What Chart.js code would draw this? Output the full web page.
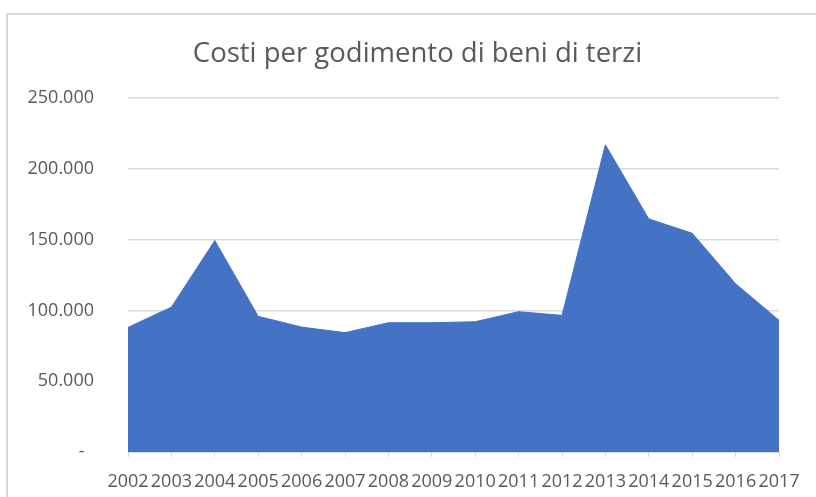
<!DOCTYPE html>
<html lang="it">
<head>
<meta charset="utf-8">
<title>Costi per godimento di beni di terzi</title>
<script src="https://cdn.jsdelivr.net/npm/chart.js@4.4.1/dist/chart.umd.min.js"></script>
<style>
    html, body {
        margin: 0;
        padding: 0;
        width: 816px;
        height: 497px;
        overflow: hidden;
        background: #fff;
    }
    /* only the top and left edges of the chart frame are inside the picture */
    .frame-top {
        position: absolute;
        left: 6px;
        top: 13px;
        width: 810px;
        height: 2px;
        background: #d9d9d9;
    }
    .frame-left {
        position: absolute;
        left: 6px;
        top: 13px;
        width: 2px;
        height: 484px;
        background: #d9d9d9;
    }
    .right-mask {
        position: absolute;
        left: 803px;
        top: 15px;
        width: 13px;
        height: 482px;
        background: #fff;
        z-index: 2;
    }
    #plot {
        position: absolute;
        left: 0;
        top: 0;
    }
</style>
</head>
<body>
<div class="frame-top"></div>
<div class="frame-left"></div>
<canvas id="plot" width="816" height="497"></canvas>
<div class="right-mask"></div>
<script>
'use strict';

const years = ["2002", "2003", "2004", "2005", "2006", "2007", "2008", "2009",
    "2010", "2011", "2012", "2013", "2014", "2015", "2016", "2017"];
const costs = [88000, 102300, 149300, 95800, 88200, 84300, 91300, 91300,
    92000, 99100, 96500, 216900, 164600, 154500, 118800, 93000];
const yTicks = [0, 50000, 100000, 150000, 200000, 250000];
const titleText = "Costi per godimento di beni di terzi";

const textColor = "#595959";
const gridColor = "#d9d9d9";
const fillColor = "#4472C4";

// Italian accounting style: thousands with a dot, zero shown as a dash
function formatTick(value) {
    if (value === 0) return "-  ";
    return String(value).replace(/\B(?=(\d{3})+(?!\d))/g, ".");
}

// title is centred on the whole chart frame, which runs past the right edge
const frameTitle = {
    id: "frameTitle",
    afterDraw(chart) {
        const c = chart.ctx;
        c.save();
        c.font = "normal 27.5px 'Open Sans'";
        c.fillStyle = textColor;
        c.textAlign = "center";
        c.textBaseline = "alphabetic";
        c.fillText(titleText, 417.5, 62);
        c.restore();
    }
};

const ctx = document.getElementById("plot").getContext("2d");

new Chart(ctx, {
    type: "line",
    data: {
        labels: years,
        datasets: [{
            label: titleText,
            data: costs,
            fill: "origin",
            backgroundColor: fillColor,
            borderColor: fillColor,
            borderWidth: 1,
            tension: 0,
            pointRadius: 0,
        }]
    },
    options: {
        responsive: false,
        animation: false,
        devicePixelRatio: 1,
        layout: {
            padding: { left: 0, right: 37, top: 98, bottom: 0 }
        },
        plugins: {
            legend: { display: false },
            tooltip: { enabled: false },
            title: { display: false }
        },
        scales: {
            x: {
                offset: false,
                grid: {
                    drawOnChartArea: false,
                    drawTicks: true,
                    tickLength: 5,
                    color: gridColor,
                },
                border: { display: true, color: gridColor },
                ticks: {
                    autoSkip: false,
                    maxRotation: 0,
                    minRotation: 0,
                    padding: 14,
                    color: textColor,
                    font: { family: "'Open Sans'", size: 18 }
                },
                afterFit: scale => { scale.height = 45; }
            },
            y: {
                min: 0,
                max: 250000,
                afterBuildTicks: scale => {
                    scale.ticks = yTicks.map(v => ({ value: v }));
                },
                grid: {
                    drawTicks: false,
                    color: gridColor,
                    lineWidth: 1.5,
                },
                border: { display: false },
                ticks: {
                    padding: 34,
                    color: textColor,
                    font: { family: "'Open Sans'", size: 18 },
                    callback: value => formatTick(value)
                },
                afterFit: scale => { scale.width = 128; }
            }
        }
    },
    plugins: [frameTitle]
});
</script>
</body>
</html>
